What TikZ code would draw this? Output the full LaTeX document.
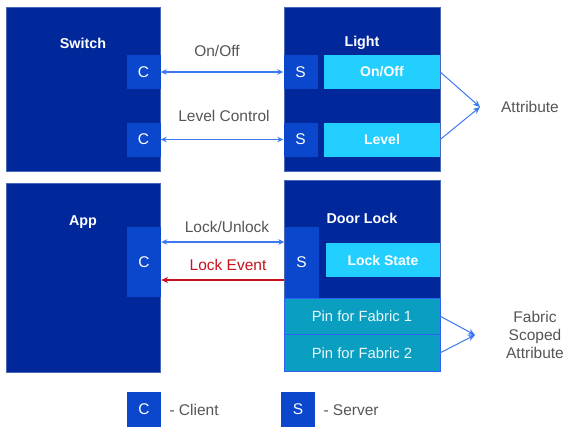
\documentclass[tikz,border=0pt]{standalone}
\usepackage{fontspec}
\setmainfont{Liberation Sans}
\usetikzlibrary{arrows.meta}
\definecolor{navy}{HTML}{00289A}
\definecolor{portblue}{HTML}{0B47CC}
\definecolor{attrcyan}{HTML}{22CFFF}
\definecolor{fabricteal}{HTML}{0A9EC0}
\definecolor{linkblue}{HTML}{3C78F0}
\definecolor{eventred}{HTML}{C8101E}
\definecolor{labelgray}{HTML}{555555}

\begin{document}
\begin{tikzpicture}
[x=1pt,y=-1pt,
  deviceDecorate/.style={fill=navy,draw=navy!70!white,line width=0.4pt,inner sep=0pt},%
  portDecorate/.style={fill=portblue,inner sep=0pt,text=white,font=\fontsize{15.5}{17}\selectfont},%
  attrDecorate/.style={fill=attrcyan,inner sep=0pt,text=white,font=\bfseries\fontsize{14}{16}\selectfont},%
  fabricDecorate/.style={fill=fabricteal,draw=linkblue!80!blue,line width=0.6pt,inner sep=0pt,text=white!92!cyan,font=\fontsize{14.8}{16}\selectfont},%
  titleDecorate/.style={text=white,font=\bfseries\fontsize{14.3}{16}\selectfont},%
  labelDecorate/.style={text=labelgray,font=\fontsize{15.5}{17}\selectfont,align=center},%
  linkDecorate/.style={{Stealth[length=6pt,width=5.5pt]}-{Stealth[length=6pt,width=5.5pt]},linkblue,line width=1.4pt},%
  pointDecorate/.style={-{Stealth[length=7pt,width=6pt]},linkblue,line width=1pt}]
\useasboundingbox (0,0) rectangle (574,437);
%% devices
\node (switch) at (83,89) [deviceDecorate,minimum width=154pt,minimum height=164pt] {};
\node (light) at (362,89) [deviceDecorate,minimum width=156pt,minimum height=164pt] {};
\node (app) at (83,277.5) [deviceDecorate,minimum width=154pt,minimum height=189pt] {};
\node (lock) at (362,239) [deviceDecorate,minimum width=156pt,minimum height=118pt] {};
\foreach \nodename/\x/\y/\text in {
  switchT/83/43/Switch, lightT/362/43/Light, appT/83/222/App, lockT/362/218/Door Lock}
{
  \node (\nodename) at (\x,\y) [titleDecorate] {\text};
}
%% clients and servers
\foreach \nodename/\x/\y/\h/\text in {
  switchC1/143.5/72/34/C, switchC2/143.5/139.5/34/C, lightS1/300.5/72/34/S,
  lightS2/300.5/139.5/34/S, appC/144/262/70/C, lockS/301.5/262.5/71/S,
  legendC/144/409.5/35/C, legendS/298/409.5/35/S}
{
  \node (\nodename) at (\x,\y) [portDecorate,minimum width=34pt,minimum height=\h pt] {\text};
}
%% attributes
\foreach \nodename/\x/\y/\w/\text in {
  onoff/382/72/116/{On/Off}, level/382/139.5/116/Level, lockstate/383/260/114/Lock State}
{
  \node (\nodename) at (\x,\y) [attrDecorate,minimum width=\w pt,minimum height=34pt] {\text};
}
\node (pin1) at (362,316.25) [fabricDecorate,minimum width=156pt,minimum height=36.5pt] {Pin for Fabric 1};
\node (pin2) at (362,352.75) [fabricDecorate,minimum width=156pt,minimum height=36.5pt] {Pin for Fabric 2};
%% labels
\node (onoffL) at (217,51) [labelDecorate] {On/Off};
\node (levelL) at (224,116) [labelDecorate] {Level Control};
\node (unlockL) at (227,227) [labelDecorate] {Lock/Unlock};
\node (eventL) at (228,265) [labelDecorate,text=eventred] {Lock Event};
\node (attrL) at (530,107) [labelDecorate] {Attribute};
\node (fabricL) at (535,335) [labelDecorate,font=\fontsize{15.5}{18}\selectfont] {Fabric\\Scoped\\Attribute};
\node (clientL) at (166,410) [labelDecorate,anchor=west] {- Client};
\node (serverL) at (320,410) [labelDecorate,anchor=west] {- Server};
\coordinate (attr) at (480,107);
\coordinate (fabric) at (475,335);
%% connectors
\path
\foreach \startnode/\endnode in {switchC1/lightS1, switchC2/lightS2}
{
  (\startnode.east) edge[linkDecorate] (\endnode.west)
};
\draw[linkDecorate] ([yshift=20pt]appC.east) -- ([yshift=20.5pt]lockS.west);
\draw[-{Stealth[length=7pt,width=6pt]},eventred,line width=1.4pt] ([yshift=-17.5pt]lockS.west) -- ([yshift=-18pt]appC.east);
\path
\foreach \startnode/\endnode in {onoff/attr, level/attr, pin1/fabric, pin2/fabric}
{
  (\startnode.east) edge[pointDecorate] (\endnode)
};
\end{tikzpicture}
\end{document}
